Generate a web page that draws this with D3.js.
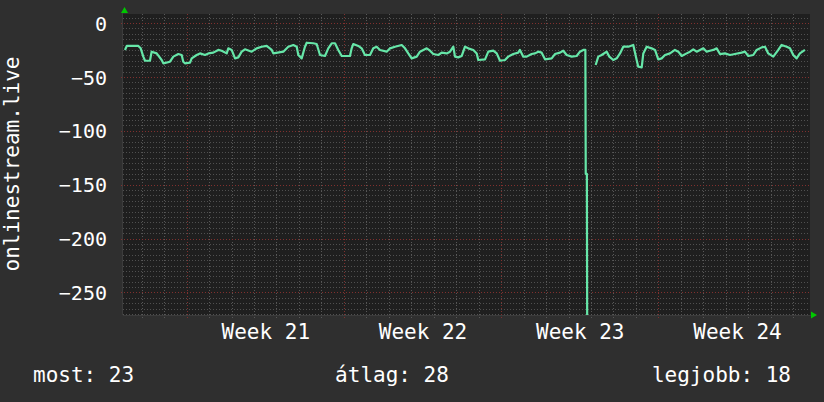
<!DOCTYPE html>
<html>
<head>
<meta charset="utf-8">
<script src="https://cdn.jsdelivr.net/npm/d3@7"></script>
<style>
  body { margin: 0; background: #2f2f2f; }
  text { font-family: "DejaVu Sans Mono", monospace; fill: #fff; }
</style>
</head>
<body>
<div id="chart"></div>
<script>
// time window of the graph (UTC)
const startTime = new Date(Date.UTC(2023, 4, 19, 4, 0));
const endTime = new Date(Date.UTC(2023, 5, 18, 18, 0));

// samples: hours after startTime, value (null = no data)
const hours = [2.1, 4.0, 16.4, 18.9, 21.7, 23.5, 28.8, 30.6, 36.0, 41.3, 43.1, 50.2, 53.8, 59.1, 62.7,
  64.4, 66.2, 71.6, 73.4, 78.7, 82.3, 87.6, 91.2, 96.5, 101.8, 105.4, 110.8, 112.5, 116.1, 119.7,
  123.2, 126.8, 130.3, 137.5, 142.8, 148.2, 153.5, 158.9, 160.6, 171.3, 176.6, 182.0, 185.6, 187.3,
  190.9, 194.4, 196.3, 203.3, 206.9, 210.5, 215.8, 219.3, 223.0, 226.5, 230.0, 233.7, 242.5, 244.3,
  246.0, 251.4, 255.0, 258.5, 263.9, 267.4, 271.0, 274.6, 281.7, 285.3, 290.6, 297.8, 301.3, 304.8,
  308.4, 313.8, 317.3, 324.5, 328.0, 331.5, 336.9, 340.5, 345.8, 349.4, 352.9, 354.7, 358.2, 361.9,
  365.4, 368.9, 374.3, 377.9, 379.6, 386.8, 390.3, 395.6, 399.3, 402.8, 408.1, 411.6, 417.0, 422.3,
  424.1, 427.7, 431.3, 436.6, 440.2, 443.7, 447.3, 450.9, 458.0, 461.5, 466.9, 470.4, 474.0, 479.4,
  484.7, 488.2, 491.8, 494.0, 494.4, 495.6, 496.0, 500.0, 502.0,
  505.0, 507.8, 511.4, 516.8, 519.6, 523.8, 527.5, 531.0, 534.5, 539.9, 545.2, 548.8, 550.5, 554.2,
  555.9, 559.5, 564.8, 568.4, 571.9, 575.5, 579.1, 584.4, 589.7, 593.3, 596.9, 602.2, 605.8, 609.3,
  612.9, 616.5, 620.0, 623.6, 627.1, 630.7, 634.3, 637.8, 643.2, 648.5, 653.8, 661.0, 664.5, 668.1,
  673.4, 677.0, 682.4, 685.9, 689.4, 694.8, 700.1, 703.7, 709.1, 712.6, 716.1, 719.7, 723.2, 728.6];
const values = [-25.0, -21.3, -21.3, -23.5, -31.2, -35.0, -35.0, -26.6, -28.2, -34.3, -37.4, -35.9, -31.2, -28.8, -29.7,
  -35.9, -37.4, -36.8, -32.8, -29.7, -28.2, -29.7, -28.2, -27.5, -25.0, -25.7, -28.2, -23.5, -25.0, -32.8,
  -31.9, -26.6, -24.4, -26.6, -23.5, -22.0, -21.3, -25.0, -28.2, -26.6, -22.0, -20.4, -22.0, -29.7,
  -32.8, -22.0, -18.3, -18.8, -19.5, -29.7, -30.6, -23.5, -18.8, -18.8, -25.0, -30.6, -30.6, -23.5,
  -19.5, -21.3, -23.5, -29.7, -29.7, -23.5, -22.0, -25.0, -26.6, -23.5, -22.0, -20.4, -23.5, -28.2,
  -32.8, -31.2, -26.6, -23.5, -25.7, -28.8, -29.7, -27.5, -28.2, -26.6, -22.0, -31.2, -31.9, -30.6,
  -22.0, -23.5, -25.0, -28.2, -34.3, -33.7, -26.6, -25.7, -28.2, -35.0, -34.3, -31.2, -28.8, -27.5,
  -25.0, -31.2, -31.2, -28.8, -28.2, -26.6, -27.5, -33.7, -32.8, -28.8, -27.5, -25.7, -29.7, -31.2,
  -30.6, -26.6, -25.0, -25.0, -140, -140, -300, -300, null,
  -39.0, -31.2, -29.7, -26.6, -31.2, -34.3, -32.8, -28.2, -22.0, -22.0, -20.4, -34.3, -40.5, -41.1,
  -28.2, -22.0, -23.5, -25.0, -33.7, -32.8, -29.7, -28.2, -25.0, -26.6, -30.6, -28.2, -26.6, -24.4,
  -26.6, -25.0, -23.5, -26.6, -25.7, -25.0, -23.5, -28.8, -28.2, -29.7, -28.8, -27.5, -26.6, -30.6,
  -29.7, -25.0, -22.6, -22.0, -28.2, -31.2, -25.0, -20.4, -22.0, -23.5, -29.7, -32.8, -28.2, -25.0];

const yTicks = [0, -50, -100, -150, -200, -250];
const weekStarts = ["2023-05-22", "2023-05-29", "2023-06-05", "2023-06-12"];
const weekLabels = ["Week 21", "Week 22", "Week 23", "Week 24"];
const seriesName = "onlinestream.live";
const legendLabels = ["most: 23", "átlag: 28", "legjobb: 18"];

const width = 824, height = 402;
const plot = { left: 123, right: 810, top: 14, bottom: 315 };

const svg = d3.select("#chart").append("svg")
    .attr("width", width)
    .attr("height", height);

svg.append("rect").attr("width", width).attr("height", height).attr("fill", "#2f2f2f");

// scales
const x = d3.scaleUtc()
    .domain([startTime, endTime])
    .range([plot.left, plot.right]);
const y = d3.scaleLinear()
    .domain([-270.9, 8.35])
    .range([plot.bottom, plot.top]);

// plot background
svg.append("rect")
    .attr("x", plot.left).attr("y", plot.top)
    .attr("width", plot.right - plot.left)
    .attr("height", plot.bottom - plot.top)
    .attr("fill", "#1f1f1f");

// grid: minor
const grid = svg.append("g").attr("shape-rendering", "crispEdges");
const minorY = d3.range(5, -271, -5).filter(v => v % 50 !== 0);
grid.selectAll(".hminor").data(minorY).enter().append("line")
    .attr("x1", plot.left).attr("x2", plot.right)
    .attr("y1", d => Math.round(y(d)) + 0.5).attr("y2", d => Math.round(y(d)) + 0.5)
    .attr("stroke", "#505050").attr("stroke-dasharray", "1,2");
const days = d3.utcDay.range(startTime, endTime).filter(d => d.getUTCDay() !== 1);
grid.selectAll(".vminor").data(days).enter().append("line")
    .attr("x1", d => Math.round(x(d)) + 0.5).attr("x2", d => Math.round(x(d)) + 0.5)
    .attr("y1", plot.top).attr("y2", plot.bottom + 3)
    .attr("stroke", "#585858").attr("stroke-dasharray", "1,2");

// grid: major (red)
grid.selectAll(".hmajor").data(yTicks).enter().append("line")
    .attr("x1", plot.left - 2).attr("x2", plot.right)
    .attr("y1", d => Math.round(y(d)) + 0.5).attr("y2", d => Math.round(y(d)) + 0.5)
    .attr("stroke", "#80302e").attr("stroke-dasharray", "1,2");
const weeks = d3.utcMonday.range(startTime, endTime);
grid.selectAll(".vmajor").data(weeks).enter().append("line")
    .attr("x1", d => Math.round(x(d)) + 0.5).attr("x2", d => Math.round(x(d)) + 0.5)
    .attr("y1", plot.top).attr("y2", plot.bottom + 3)
    .attr("stroke", "#80302e").attr("stroke-dasharray", "1,2");

// y axis labels
const yAxis = d3.axisLeft(y).tickValues(yTicks).tickSize(0).tickPadding(16);
svg.append("g")
    .attr("transform", `translate(${plot.left}, 0)`)
    .call(yAxis)
    .call(g => g.select(".domain").remove())
    .call(g => g.selectAll("text").attr("fill", "#fff")
        .style("font-size", "20px").attr("dy", "0.36em"));

// x axis labels, centred on the weeks
const weekMids = weekStarts.map(s => new Date(Date.parse(s + "T00:00:00Z") + 3.5 * 864e5));
const xAxis = d3.axisBottom(x).tickValues(weekMids)
    .tickFormat((d, i) => weekLabels[i]).tickSize(0).tickPadding(9);
svg.append("g")
    .attr("transform", `translate(0, ${plot.bottom})`)
    .call(xAxis)
    .call(g => g.select(".domain").remove())
    .call(g => g.selectAll("text").attr("fill", "#fff").style("font-size", "21px"));

// axis lines
svg.append("line")
    .attr("x1", plot.left - 0.5).attr("x2", plot.left - 0.5)
    .attr("y1", plot.top - 2).attr("y2", plot.bottom)
    .attr("stroke", "#3c3c3c");
svg.append("line")
    .attr("x1", plot.left).attr("x2", plot.right + 2)
    .attr("y1", plot.bottom + 0.5).attr("y2", plot.bottom + 0.5)
    .attr("stroke", "#3c3c3c");

// arrows
svg.append("path")
    .attr("d", `M${plot.left - 2},${plot.top - 1} L${plot.left + 5},${plot.top - 1} L${plot.left + 1.5},${plot.top - 7}Z`)
    .attr("fill", "#00c800");
svg.append("path")
    .attr("d", `M${plot.right + 1},${plot.bottom - 3.5} L${plot.right + 1},${plot.bottom + 3.5} L${plot.right + 7},${plot.bottom}Z`)
    .attr("fill", "#00c800");

// data line
const data = hours.map((h, i) => ({ t: new Date(startTime.getTime() + h * 36e5), v: values[i] }));
svg.append("clipPath").attr("id", "clip")
    .append("rect")
    .attr("x", plot.left).attr("y", plot.top)
    .attr("width", plot.right - plot.left)
    .attr("height", plot.bottom - plot.top);
const line = d3.line()
    .defined(d => d.v !== null)
    .x(d => x(d.t))
    .y(d => y(d.v));
svg.append("path")
    .datum(data)
    .attr("clip-path", "url(#clip)")
    .attr("d", line)
    .attr("fill", "none")
    .attr("stroke", "#66e6a8")
    .attr("stroke-width", 2.2)
    .attr("stroke-linejoin", "round");

// y title
svg.append("text")
    .attr("transform", "translate(19, 164) rotate(-90)")
    .attr("text-anchor", "middle")
    .style("font-size", "21px")
    .text(seriesName);

// legend row
const legendX = [33, 392, 791];
const legendAnchor = ["start", "middle", "end"];
svg.selectAll(".legend").data(legendLabels).enter().append("text")
    .attr("x", (d, i) => legendX[i])
    .attr("y", 382)
    .attr("text-anchor", (d, i) => legendAnchor[i])
    .style("font-size", "21px")
    .text(d => d);
</script>
</body>
</html>
